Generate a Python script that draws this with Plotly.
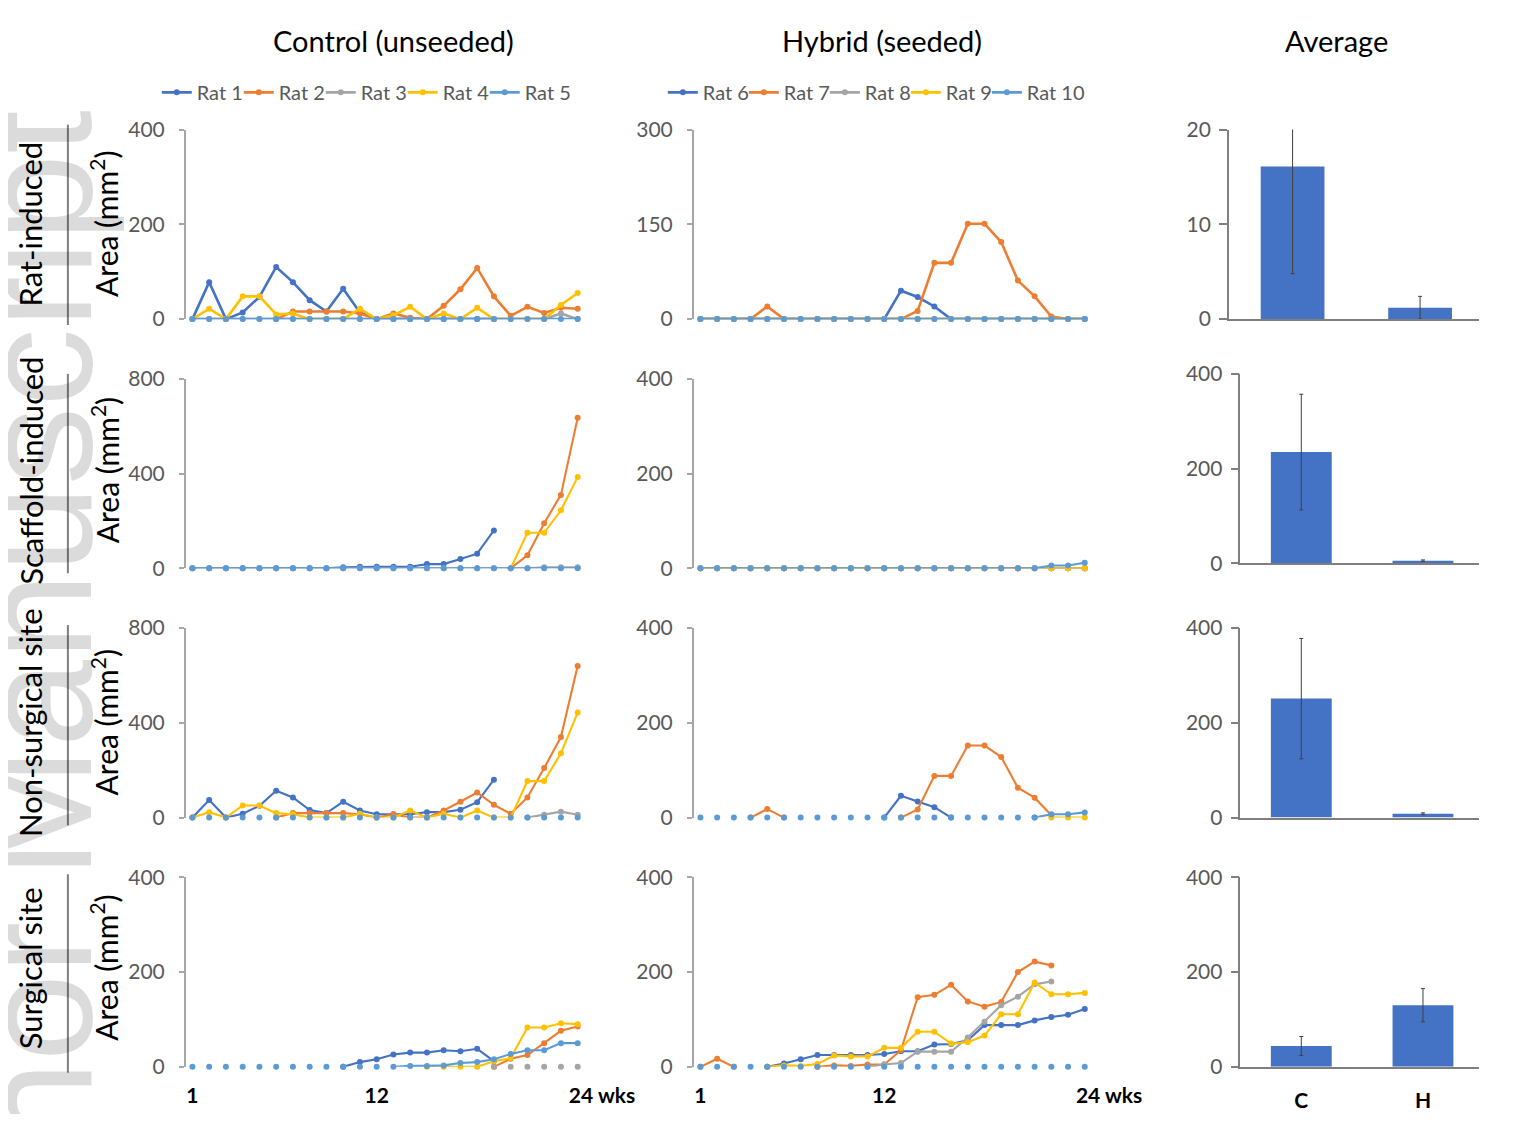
import plotly.graph_objects as go

W, H = 1539, 1122
OFF = 8                      # page margin around the figure
FW, FH = W - 2 * OFF, H - 2 * OFF
N = None

# ---------------- data ----------------
weeks = list(range(1, 25))
week_ticks = [1, 12, 24]
week_ticktext = ["1", "12", "\u2007\u2007\u2007\u200724 wks"]

control_names = ["Rat 1", "Rat 2", "Rat 3", "Rat 4", "Rat 5"]
hybrid_names = ["Rat 6", "Rat 7", "Rat 8", "Rat 9", "Rat 10"]
rat_colors = ["#4472C4", "#ED7D31", "#A5A5A5", "#FFC000", "#5B9BD5"]

row_labels = ["Rat-induced", "Scaffold-induced", "Non-surgical site", "Surgical site"]
col_titles = ["Control (unseeded)", "Hybrid (seeded)", "Average"]
groups = ["C", "H"]

# Control, rat-induced
ri_rat1 = [0, 78, 0, 14, 47, 110, 78, 40, 16, 64, 14, 0, 0, 0, 0, 0, 0, 0, 0, N, N, N, N, N]
ri_rat2 = [N, N, N, N, N, 0, 16, 16, 16, 16, 12, 0, 12, 3, 0, 28, 63, 108, 48, 7, 26, 13, 24, 22]
ri_rat3 = [0, 0, 0, 0, 0, 0, 0, 0, 0, 0, 0, 0, 0, 0, 0, 0, 0, 0, 0, 0, 0, 0, 12, 0]
ri_rat4 = [0, 22, 0, 48, 48, 10, 12, 0, 0, 0, 22, 0, 8, 26, 0, 12, 0, 24, 0, 0, 0, 0, 30, 55]
ri_rat5 = [0, 0, 0, 0, 0, 0, 0, 0, 0, 0, 0, 0, 0, 0, 0, 0, 0, 0, 0, 0, 0, 0, 0, 0]

# Control, scaffold-induced
si_rat1 = [0, 0, 0, 0, 0, 0, 0, 0, 0, 5, 7, 7, 7, 7, 18, 18, 40, 62, 160, N, N, N, N, N]
si_rat2 = [N, N, N, N, N, N, N, N, N, N, N, N, N, N, N, N, N, N, N, 0, 55, 190, 310, 635]
si_rat3 = [0, 0, 0, 0, 0, 0, 0, 0, 0, 0, 0, 0, 0, 0, 0, 0, 0, 0, 0, 0, 0, 5, 5, 5]
si_rat4 = [N, N, N, N, N, N, N, N, N, N, N, N, N, N, N, N, N, N, N, 0, 150, 150, 245, 385]
si_rat5 = [0, 0, 0, 0, 0, 0, 0, 0, 0, 0, 0, 0, 0, 0, 0, 0, 0, 0, 0, 0, 0, 0, 0, 0]

# Control, non-surgical site
ns_rat1 = [0, 74, 0, 16, 50, 113, 85, 32, 19, 67, 30, 14, 14, 14, 23, 23, 33, 65, 160, N, N, N, N, N]
ns_rat2 = [N, N, N, N, N, 0, 19, 19, 19, 19, 14, 0, 14, 0, 0, 30, 67, 106, 54, 16, 85, 209, 340, 640]
ns_rat3 = [N, N, N, N, N, N, N, N, N, N, N, N, N, N, N, N, N, N, N, N, 0, 12, 25, 12]
ns_rat4 = [0, 23, 0, 51, 51, 19, 14, 0, 0, 0, 16, 0, 0, 30, 0, 16, 0, 30, 0, 0, 154, 154, 271, 443]
ns_rat5 = [N, N, N, N, N, N, N, N, N, N, N, N, N, N, N, N, N, N, N, N, N, N, N, N]
ns_rat5_dots = [0, 0, 0, 0, 0, 0, 0, 0, 0, 0, 0, 0, 0, 0, 0, 0, 0, 0, 0, 0, 0, 0, 0, 0]

# Control, surgical site
ss_rat1 = [N, N, N, N, N, N, N, N, N, 0, 10, 16, 26, 30, 30, 35, 33, 38, 12, N, N, N, N, N]
ss_rat2 = [N, N, N, N, N, N, N, N, N, N, N, N, N, N, N, N, N, N, 0, 17, 25, 50, 76, 85]
ss_rat3 = [N, N, N, N, N, N, N, N, N, N, N, N, N, N, N, N, N, N, N, N, N, N, N, N]
ss_rat3_dots = [N, N, N, N, N, N, N, N, N, N, N, N, N, N, N, N, N, N, 0, 0, 0, 0, 0, 0]
ss_rat4 = [N, N, N, N, N, N, N, N, N, N, N, N, N, N, 0, 0, 0, 0, 12, 18, 83, 83, 92, 90]
ss_rat5 = [N, N, N, N, N, N, N, N, N, N, N, N, 0, 2, 2, 3, 8, 10, 16, 27, 35, 35, 50, 50]
ss_rat5_dots = [0, 0, 0, 0, 0, 0, 0, 0, 0, 0, 0, 0, N, N, N, N, N, N, N, N, N, N, N, N]

# Hybrid, rat-induced
ri_rat6 = [0, 0, 0, 0, 0, 0, 0, 0, 0, 0, 0, 0, 45, 35, 20, 0, 0, 0, 0, 0, 0, 0, 0, 0]
ri_rat7 = [0, 0, 0, 0, 20, 0, 0, 0, 0, 0, 0, 0, 0, 13, 89, 89, 151, 151, 122, 61, 36, 4, 0, 0]
ri_rat8 = [0, 0, 0, 0, 0, 0, 0, 0, 0, 0, 0, 0, 0, 0, 0, 0, 0, 0, 0, 0, 0, 0, 0, 0]
ri_rat9 = [0, 0, 0, 0, 0, 0, 0, 0, 0, 0, 0, 0, 0, 0, 0, 0, 0, 0, 0, 0, 0, 0, 0, 0]
ri_rat10 = [0, 0, 0, 0, 0, 0, 0, 0, 0, 0, 0, 0, 0, 0, 0, 0, 0, 0, 0, 0, 0, 0, 0, 0]

# Hybrid, scaffold-induced
si_rat6 = [0, 0, 0, 0, 0, 0, 0, 0, 0, 0, 0, 0, 0, 0, 0, 0, 0, 0, 0, 0, 0, 0, 0, 0]
si_rat7 = [0, 0, 0, 0, 0, 0, 0, 0, 0, 0, 0, 0, 0, 0, 0, 0, 0, 0, 0, 0, 0, 0, 0, 0]
si_rat8 = [0, 0, 0, 0, 0, 0, 0, 0, 0, 0, 0, 0, 0, 0, 0, 0, 0, 0, 0, 0, 0, 0, 0, 0]
si_rat9 = [0, 0, 0, 0, 0, 0, 0, 0, 0, 0, 0, 0, 0, 0, 0, 0, 0, 0, 0, 0, 0, 0, 0, 0]
si_rat10 = [0, 0, 0, 0, 0, 0, 0, 0, 0, 0, 0, 0, 0, 0, 0, 0, 0, 0, 0, 0, 0, 6, 6, 12]

# Hybrid, non-surgical site
ns_rat6 = [N, N, N, N, N, N, N, N, N, N, N, 0, 46, 34, 22, 0, N, N, N, N, N, N, N, N]
ns_rat7 = [N, N, N, 0, 18, 0, N, N, N, N, N, N, 0, 17, 88, 88, 152, 152, 128, 63, 42, 5, N, N]
ns_rat8 = [N, N, N, N, N, N, N, N, N, N, N, N, N, N, N, N, N, N, N, N, N, N, N, N]
ns_rat9 = [N, N, N, N, N, N, N, N, N, N, N, N, N, N, N, N, N, N, N, N, N, 0, 0, 0]
ns_rat10 = [N, N, N, N, N, N, N, N, N, N, N, N, N, N, N, N, N, N, N, N, 0, 7, 7, 11]
ns_rat10_dots = [0, 0, 0, 0, 0, 0, 0, 0, 0, 0, 0, 0, 0, 0, 0, 0, 0, 0, 0, 0, 0, N, N, N]

# Hybrid, surgical site
ss_rat6 = [N, N, N, N, 0, 7, 16, 25, 25, 25, 25, 27, 33, 33, 47, 48, 56, 88, 88, 88, 98, 105, 110, 122]
ss_rat7 = [0, 17, 0, N, N, N, N, 0, 3, 2, 5, 5, 35, 147, 152, 173, 138, 127, 137, 200, 222, 214, N, N]
ss_rat8 = [N, N, N, N, N, N, N, N, N, N, 0, 5, 8, 32, 32, 32, 62, 95, 130, 148, 174, 180, N, N]
ss_rat9 = [N, N, N, N, 0, 3, 2, 6, 24, 22, 22, 40, 40, 74, 74, 49, 52, 66, 111, 111, 178, 153, 153, 156]
ss_rat10 = [N, N, N, N, N, N, N, N, N, N, N, N, N, N, N, N, N, N, N, N, N, N, N, N]
ss_rat10_dots = [0, 0, 0, 0, 0, 0, 0, 0, 0, 0, 0, 0, 0, 0, 0, 0, 0, 0, 0, 0, 0, 0, 0, 0]

# Averages (mean, error)
avg_ri = [16.1, 1.2]
err_ri = [11.3, 1.2]
avg_si = [235, 6]
err_si = [122, 1.5]
avg_ns = [251, 8]
err_ns = [127, 2]
avg_ss = [44, 130]
err_ss = [20, 35]

# y axis ticks per panel (row, col)
yticks = {
    (0, 0): [0, 200, 400], (1, 0): [0, 400, 800], (2, 0): [0, 400, 800], (3, 0): [0, 200, 400],
    (0, 1): [0, 150, 300], (1, 1): [0, 200, 400], (2, 1): [0, 200, 400], (3, 1): [0, 200, 400],
    (0, 2): [0, 10, 20], (1, 2): [0, 200, 400], (2, 2): [0, 200, 400], (3, 2): [0, 200, 400],
}

control_rows = [
    [ri_rat1, ri_rat2, ri_rat3, ri_rat4, ri_rat5],
    [si_rat1, si_rat2, si_rat3, si_rat4, si_rat5],
    [ns_rat1, ns_rat2, ns_rat3, ns_rat4, ns_rat5],
    [ss_rat1, ss_rat2, ss_rat3, ss_rat4, ss_rat5],
]
hybrid_rows = [
    [ri_rat6, ri_rat7, ri_rat8, ri_rat9, ri_rat10],
    [si_rat6, si_rat7, si_rat8, si_rat9, si_rat10],
    [ns_rat6, ns_rat7, ns_rat8, ns_rat9, ns_rat10],
    [ss_rat6, ss_rat7, ss_rat8, ss_rat9, ss_rat10],
]
dot_series = {
    (2, 0): [(4, ns_rat5_dots)],
    (3, 0): [(2, ss_rat3_dots), (4, ss_rat5_dots)],
    (2, 1): [(4, ns_rat10_dots)],
    (3, 1): [(4, ss_rat10_dots)],
}
avg_rows = [(avg_ri, err_ri), (avg_si, err_si), (avg_ns, err_ns), (avg_ss, err_ss)]

# ---------------- layout geometry (page pixels) ----------------
def fx(px):
    return (px - OFF) / FW

def fy(py):
    return 1 - (py - OFF) / FH

col_x = [(192, 603), (718, 1128)]
# bar panels: (left px, px per category, right px)
bar_x = [(1272, 132, 1531), (1284, 126, 1531), (1284, 126, 1531), (1284, 126, 1531)]
row_y = [(118, 312), (373, 567), (628, 822), (883, 1077)]
bar_y = [(118, 312), (368, 562), (628, 822), (883, 1077)]

FONT = "Lato"
TICK_GREY = "#595959"

fig = go.Figure()
layout = dict(
    width=FW, height=FH, margin=dict(l=0, r=0, t=0, b=0),
    paper_bgcolor="white", plot_bgcolor="white",
    font=dict(family=FONT, color="black"),
)

def ax_name(n, kind):
    return kind if n == 1 else f"{kind}{n}"

for r in range(4):
    for c in range(3):
        n = r * 3 + c + 1
        xa, ya = ax_name(n, "x"), ax_name(n, "y")
        tv = yticks[(r, c)]
        if c < 2:
            x0, x1 = col_x[c]
            y0, y1 = row_y[r]
            xaxis = dict(
                domain=[fx(x0), fx(x1)], range=[0.6, 24.3], anchor=ya,
                showline=False, showgrid=False, zeroline=False, ticks="",
                tickmode="array", tickvals=week_ticks, ticktext=week_ticktext,
                showticklabels=(r == 3), ticklabelstandoff=14,
                tickfont=dict(family=FONT, size=21, color="black", weight="bold"),
            )
            axcol = "#A6A6A6"
            tlen_out, tlen_in = 5, 10
        else:
            x0, step, x1 = bar_x[r]
            y0, y1 = bar_y[r]
            xaxis = dict(
                domain=[fx(x0), fx(x1)], type="category", categoryorder="array",
                categoryarray=groups, range=[-0.5, -0.5 + (x1 - x0) / step], anchor=ya,
                showline=True, linecolor="#7F7F7F", linewidth=1.5,
                showgrid=False, zeroline=False, ticks="",
                showticklabels=(r == 3), ticklabelstandoff=14,
                tickfont=dict(family=FONT, size=21, color="black", weight="bold"),
            )
            axcol = "#7F7F7F"
            tlen_out, tlen_in = 8, 8
        yaxis = dict(
            domain=[fy(y1), fy(y0)], range=[tv[0], tv[-1]], anchor=xa,
            showline=True, linecolor=axcol, linewidth=1.5,
            showgrid=False, zeroline=False,
            tickmode="array", tickvals=tv,
            ticks="outside", ticklen=tlen_out, tickcolor=axcol, tickwidth=1.5,
            ticklabelstandoff=10 if c < 2 else 4,
            tickfont=dict(family=FONT, size=21, color=TICK_GREY),
        )
        layout["xaxis" if n == 1 else f"xaxis{n}"] = xaxis
        layout["yaxis" if n == 1 else f"yaxis{n}"] = yaxis
        # overlay axis drawing the inner half of the cross ticks
        m = 12 + n
        layout[f"yaxis{m}"] = dict(
            overlaying=ya, anchor=xa, range=[tv[0], tv[-1]],
            tickmode="array", tickvals=tv, ticks="inside", ticklen=tlen_in,
            tickcolor=axcol, tickwidth=1.5, showticklabels=False,
            showline=False, showgrid=False, zeroline=False,
        )

        if c < 2:
            names = control_names if c == 0 else hybrid_names
            series = control_rows[r] if c == 0 else hybrid_rows[r]
            lw = 2.6 if r == 0 else 2.1
            for k in range(5):
                fig.add_trace(go.Scatter(
                    x=weeks, y=series[k], mode="lines+markers", name=names[k],
                    line=dict(color=rat_colors[k], width=lw),
                    marker=dict(color=rat_colors[k], size=6),
                    showlegend=(r == 0), legend=("legend" if c == 0 else "legend2"),
                    xaxis=xa, yaxis=ya, cliponaxis=False, connectgaps=False,
                ))
            for k, arr in dot_series.get((r, c), []):
                fig.add_trace(go.Scatter(
                    x=weeks, y=arr, mode="markers", name=names[k],
                    marker=dict(color=rat_colors[k], size=6),
                    showlegend=False, xaxis=xa, yaxis=ya, cliponaxis=False,
                ))
        else:
            means, errs = avg_rows[r]
            fig.add_trace(go.Bar(
                x=groups, y=means, width=0.5, marker=dict(color="#4472C4", line=dict(width=0)),
                error_y=dict(type="data", array=errs, color="#404040", thickness=1, width=2),
                showlegend=False, xaxis=xa, yaxis=ya,
            ))

# empty, invisible spacer entries so that the last legend labels are not clipped
for lg, xa, ya in [("legend", "x", "y"), ("legend2", "x2", "y2")]:
    fig.add_trace(go.Scatter(
        x=[N], y=[N], mode="markers", name="\u2007",
        marker=dict(size=1, color="rgba(0,0,0,0)", line=dict(width=0)),
        showlegend=True, legend=lg, xaxis=xa, yaxis=ya,
    ))

legend_common = dict(
    orientation="h", yanchor="middle",
    font=dict(family=FONT, size=20, color=TICK_GREY), bgcolor="rgba(0,0,0,0)",
    entrywidthmode="pixels", itemwidth=30, tracegroupgap=0,
)
layout["legend"] = dict(x=fx(162), y=fy(80), xanchor="left", entrywidth=37, **legend_common)
layout["legend2"] = dict(x=fx(686), y=fy(80), xanchor="left", entrywidth=36, **legend_common)

annotations = [dict(
    text="Author Manuscript", x=fx(37), y=fy(750), xref="paper", yref="paper",
    textangle=-90, showarrow=False, xanchor="center", yanchor="middle",
    font=dict(family="Liberation Sans", size=157, color="rgba(0,0,0,0.14)"),
)]
title_x = [407, 913, 1383]
for t, px in zip(col_titles, title_x):
    annotations.append(dict(
        text=t, x=fx(px), y=fy(27), xref="paper", yref="paper", showarrow=False,
        xanchor="center", yanchor="middle", font=dict(family=FONT, size=29, color="black"),
    ))
label_y = [215, 467, 725, 976]
for lab, py in zip(row_labels, label_y):
    annotations.append(dict(
        text=lab, x=fx(31), y=fy(py), xref="paper", yref="paper", showarrow=False,
        textangle=-90, xanchor="center", yanchor="middle",
        font=dict(family=FONT, size=31, color="black"),
    ))
    annotations.append(dict(
        text="Area (mm<sup>2</sup>)", x=fx(108), y=fy(py), xref="paper", yref="paper",
        showarrow=False, textangle=-90, xanchor="center", yanchor="middle",
        font=dict(family=FONT, size=30, color="black"),
    ))
layout["annotations"] = annotations

sep_rows = [(113, 318), (368, 572), (625, 830), (880, 1083)]
layout["shapes"] = [
    dict(type="line", xref="paper", yref="paper", x0=fx(70), x1=fx(70),
         y0=fy(b), y1=fy(t), line=dict(color="#7F7F7F", width=2))
    for t, b in sep_rows
]

fig.update_layout(**layout)
fig.write_html("out.html")
